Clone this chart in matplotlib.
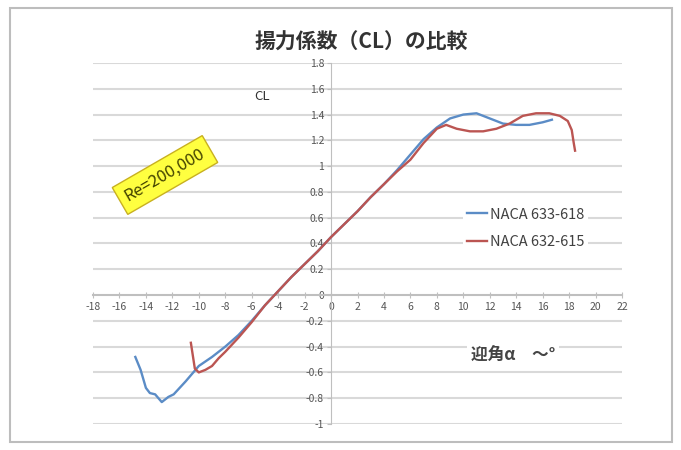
import matplotlib
matplotlib.use("Agg")
import matplotlib.pyplot as plt
from matplotlib.patches import Rectangle

plt.rcParams['font.family'] = ['Noto Sans CJK JP', 'DejaVu Sans']

# angle of attack (deg) and CL
alpha_618 = [-14.8, -14.4, -14.0, -13.7, -13.3, -12.8, -12.3, -11.9, -11.0, -10.0,
             -9.0, -8.0, -7.0, -6.0, -5.0, -4.0, -3.0, -2.0, -1.0, 0.0,
             1.0, 2.0, 3.0, 4.0, 5.0, 6.0, 7.0, 8.0, 9.0, 10.0,
             11.0, 12.0, 13.0, 14.0, 15.0, 16.0, 16.7]
cl_618 = [-0.48, -0.58, -0.72, -0.76, -0.77, -0.83, -0.79, -0.77, -0.67, -0.55,
          -0.48, -0.40, -0.31, -0.20, -0.08, 0.03, 0.14, 0.24, 0.34, 0.45,
          0.55, 0.65, 0.76, 0.86, 0.97, 1.09, 1.21, 1.30, 1.37, 1.40,
          1.41, 1.37, 1.33, 1.32, 1.32, 1.34, 1.36]

alpha_615 = [-10.6, -10.3, -10.0, -9.5, -9.0, -8.5, -8.0, -7.0, -6.0, -5.0,
             -4.0, -3.0, -2.0, -1.0, 0.0, 1.0, 2.0, 3.0, 4.0, 5.0,
             6.0, 7.0, 8.0, 8.7, 9.5, 10.5, 11.5, 12.5, 13.5, 14.5,
             15.5, 16.5, 17.3, 17.9, 18.2, 18.35, 18.45]
cl_615 = [-0.37, -0.57, -0.60, -0.58, -0.55, -0.49, -0.44, -0.33, -0.21, -0.08,
          0.03, 0.14, 0.24, 0.34, 0.45, 0.55, 0.65, 0.76, 0.86, 0.96,
          1.05, 1.18, 1.29, 1.32, 1.29, 1.27, 1.27, 1.29, 1.33, 1.39,
          1.41, 1.41, 1.39, 1.35, 1.28, 1.18, 1.12]

x_ticks = list(range(-18, 23, 2))
y_ticks = [-1, -0.8, -0.6, -0.4, -0.2, 0, 0.2, 0.4, 0.6, 0.8, 1, 1.2, 1.4, 1.6, 1.8]
y_labels = ['-1', '-0.8', '-0.6', '-0.4', '-0.2', '0', '0.2', '0.4', '0.6', '0.8',
            '1', '1.2', '1.4', '1.6', '1.8']

fig = plt.figure(figsize=(6.81, 4.5), dpi=100)
fig.patches.append(Rectangle((10 / 681, 8 / 450), 662 / 681, 434 / 450,
                             transform=fig.transFigure, fill=False,
                             edgecolor='#bdbdbd', linewidth=1.5))

ax = fig.add_axes([93 / 681, 1 - 424 / 450, 529 / 681, 361 / 450])
ax.set_xlim(-18, 22)
ax.set_ylim(-1, 1.8)

for v in y_ticks:
    if v != 0:
        ax.axhline(v, color='#d9d9d9', lw=1.5, zorder=0)

ax.spines['top'].set_visible(False)
ax.spines['right'].set_visible(False)
ax.spines['left'].set_position(('data', 0))
ax.spines['bottom'].set_position(('data', 0))
ax.spines['left'].set_color('#bfbfbf')
ax.spines['bottom'].set_color('#bfbfbf')
ax.spines['bottom'].set_linewidth(1.5)

ax.set_xticks(x_ticks)
ax.set_xticklabels([str(t) for t in x_ticks])
ax.set_yticks(y_ticks)
ax.set_yticklabels(y_labels)
ax.tick_params(axis='x', direction='inout', length=4, color='#bfbfbf',
               labelsize=7.5, labelcolor='#555555', pad=3)
ax.tick_params(axis='y', direction='out', length=3, color='#bfbfbf',
               labelsize=7.5, labelcolor='#555555', pad=2)

ax.plot(alpha_618, cl_618, color='#5b8cc6', lw=1.7, label='NACA 633-618', zorder=3)
ax.plot(alpha_615, cl_615, color='#bb5552', lw=1.7, label='NACA 632-615', zorder=4)

leg = ax.legend(loc='upper left', bbox_to_anchor=(0.685, 0.632), frameon=True,
                fontsize=10.5, handlelength=1.4, handletextpad=0.15,
                labelspacing=0.95, borderpad=0.3)
leg.get_frame().set_edgecolor('none')
leg.get_frame().set_facecolor('white')
leg.get_frame().set_alpha(1)
for t in leg.get_texts():
    t.set_color('#404040')

fig.text(361 / 681, 1 - 42 / 450, '揚力係数（CL）の比較', ha='center', va='center',
         fontsize=15, fontweight='bold', color='#333333')
fig.text(262 / 681, 1 - 96 / 450, 'CL', ha='center', va='center',
         fontsize=9.5, color='#333333')
fig.text(513 / 681, 1 - 356 / 450, '迎角α　～°', ha='center', va='center',
         fontsize=12, fontweight='bold', color='#444444',
         bbox=dict(facecolor='white', edgecolor='none', pad=3))
fig.text(165 / 681, 1 - 175 / 450, 'Re=200,000', ha='center', va='center',
         fontsize=12, color='#444400', rotation=30,
         bbox=dict(facecolor='#ffff40', edgecolor='#c8b020', pad=5, lw=1))

fig.savefig('out.png', dpi=100)
